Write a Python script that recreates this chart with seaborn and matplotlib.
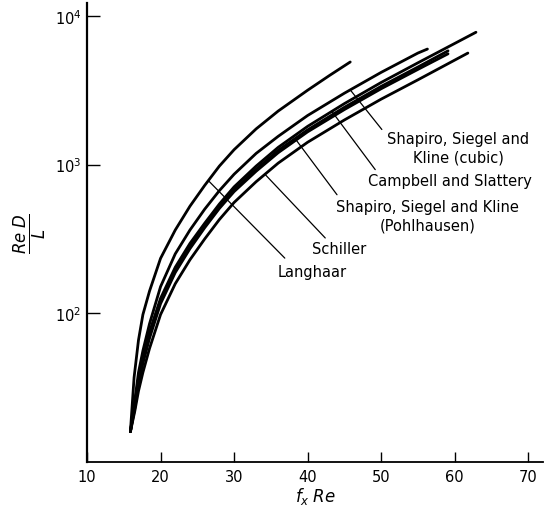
import matplotlib
matplotlib.use('Agg')
import numpy as np
import pandas as pd
import matplotlib.pyplot as plt
import seaborn as sns
from matplotlib.ticker import NullLocator

# ---------------- DADOS ----------------
fx_langhaar = [15.9, 16.4, 17.0, 17.6, 18.5, 20, 22, 24, 26, 28, 30, 33, 36, 40, 43, 45.8]
red_langhaar = [16, 37, 66, 98, 141, 234, 363, 525, 724, 977, 1259, 1738, 2291, 3162, 3981, 4898]

fx_grid = [15.9, 16.5, 17, 17.6, 18.5, 20, 22, 24, 26, 28, 30, 33, 36, 40, 45, 50, 55]

fx_schiller = fx_grid + [61.8]
red_schiller = [16, 22, 30, 40, 58, 98, 158, 229, 316, 427, 556, 767, 1023, 1413, 1995, 2754, 3715, 5623]

fx_cubic = fx_grid + [56.3]
red_cubic = [16, 26, 40, 56, 85, 151, 251, 363, 501, 668, 861, 1189, 1549, 2138, 3020, 4169, 5623, 5984]

fx_campbell = fx_grid + [62.9]
red_campbell = [16, 25, 36, 50, 75, 126, 204, 295, 403, 543, 708, 977, 1306, 1807, 2570, 3565, 4834, 7762]

fx_pohlhausen = fx_grid + [59.1]
red_pohlhausen = [16, 24, 35, 48, 71, 121, 194, 280, 388, 522, 676, 931, 1247, 1711, 2427, 3357, 4529, 5821]

fx_pohlhausen_b = fx_grid + [59.1]
red_pohlhausen_b = [16, 23, 34, 46, 68, 116, 188, 272, 376, 507, 658, 902, 1202, 1660, 2344, 3236, 4365, 5559]

curvas = {
    'Langhaar': (fx_langhaar, red_langhaar),
    'Schiller': (fx_schiller, red_schiller),
    'cubic': (fx_cubic, red_cubic),
    'Campbell': (fx_campbell, red_campbell),
    'Pohlhausen': (fx_pohlhausen, red_pohlhausen),
    'Pohlhausen_b': (fx_pohlhausen_b, red_pohlhausen_b),
}

linhas = []
for nome, (xs, ys) in curvas.items():
    for x, y in zip(xs, ys):
        linhas.append({'curva': nome, 'fxRe': x, 'ReDL': y})
df = pd.DataFrame(linhas)

# rótulos: texto, curva, x do início da linha guia, ponta da guia, posição do texto
rotulos = [
    ('Langhaar', 'Langhaar', 26.5, (36.9, 235), (35.9, 192), 'left'),
    ('Schiller', 'Schiller', 34.2, (42.4, 321), (40.6, 271), 'left'),
    ('Shapiro, Siegel and Kline\n(Pohlhausen)', 'Pohlhausen', 38.3, (44.0, 627), (56.3, 452), 'center'),
    ('Campbell and Slattery', 'Campbell', 43.3, (49.2, 925), (48.2, 780), 'left'),
    ('Shapiro, Siegel and\nKline (cubic)', 'cubic', 45.8, (50.1, 1722), (60.5, 1303), 'center'),
]

# ---------------- FIGURA ----------------
sns.set_style('ticks')
plt.rcParams['text.color'] = 'black'
plt.rcParams['axes.labelcolor'] = 'black'
plt.rcParams['xtick.color'] = 'black'
plt.rcParams['ytick.color'] = 'black'
plt.rcParams['axes.edgecolor'] = 'black'

fig = plt.figure(figsize=(5.6, 5.06), dpi=100)
ax = fig.add_axes([0.1554, 0.085, 0.814, 0.907])
ax.set_yscale('log')

sns.lineplot(data=df, x='fxRe', y='ReDL', hue='curva', palette=['black'] * len(curvas),
             estimator=None, sort=False, legend=False, linewidth=2.0, ax=ax)

# linhas guia e textos
for texto, curva, x0, (x1, y1), (xt, yt), ha in rotulos:
    xs, ys = curvas[curva]
    y0 = 10 ** np.interp(x0, xs, np.log10(ys))
    ax.plot([x0, x1], [y0, y1], color='black', linewidth=0.9)
    ax.text(xt, yt, texto, ha=ha, va='center', fontsize=10.5, linespacing=1.3,
            multialignment='center', color='black')

# ---------------- EIXOS ----------------
ax.set_xlim(10, 72)
ax.set_ylim(10, 12200)
ax.set_xticks(range(10, 71, 10))
ax.set_yticks([1e2, 1e3, 1e4])
ax.yaxis.set_minor_locator(NullLocator())
ax.tick_params(axis='y', direction='in', length=9, width=1, labelsize=10.5, pad=4)
ax.tick_params(axis='x', direction='in', length=7, width=1, labelsize=10.5, pad=5)
sns.despine(ax=ax)
ax.spines['left'].set_linewidth(1.6)
ax.spines['bottom'].set_linewidth(1.3)

ax.set_xlabel(r'$f_x\;Re$', fontsize=12, labelpad=1)
ax.set_ylabel(r'$\frac{Re\;D}{L}$', fontsize=17, va='center')
ax.yaxis.set_label_coords(-0.125, 0.5)

fig.savefig('out.png', dpi=100)
